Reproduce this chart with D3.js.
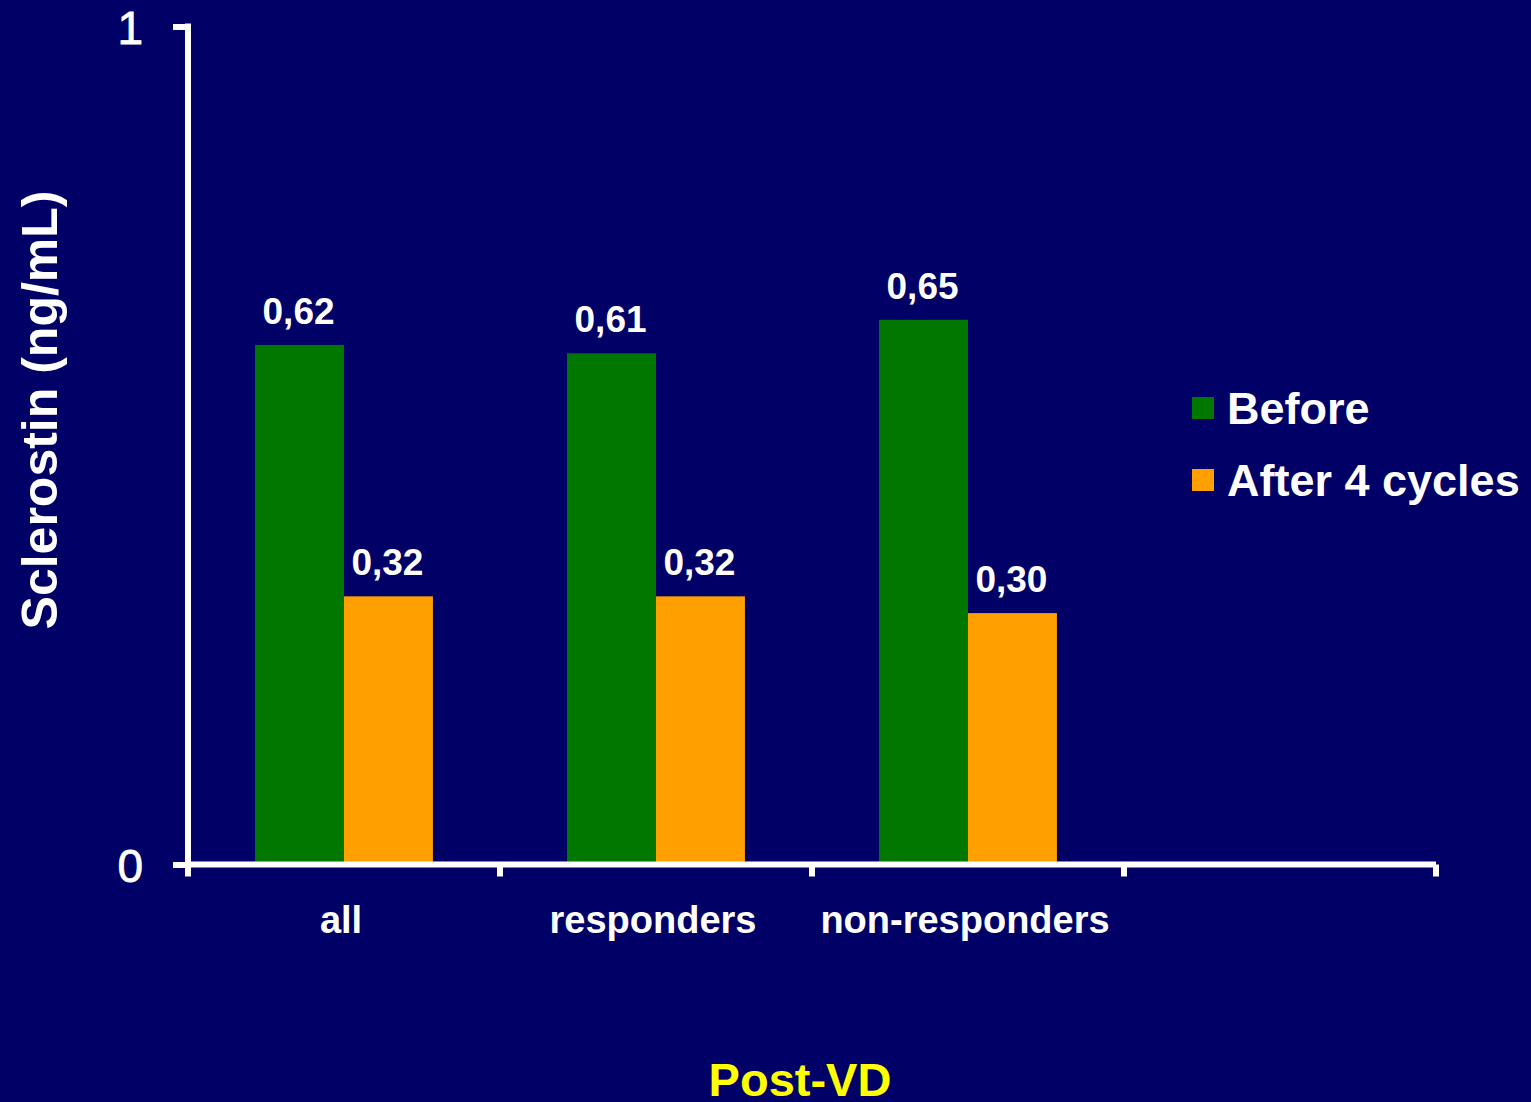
<!DOCTYPE html>
<html>
<head>
<meta charset="utf-8">
<script src="https://cdn.jsdelivr.net/npm/d3@7"></script>
<style>
  html, body { margin: 0; padding: 0; background: #000066; }
  svg { display: block; font-family: "Liberation Sans", Arial, sans-serif; }
</style>
</head>
<body>
<svg id="chart" width="1531" height="1102"></svg>
<script>
// Sclerostin levels before and after treatment, per patient group
const categories = ["all", "responders", "non-responders", ""];
const seriesNames = ["Before", "After 4 cycles"];
const beforeValues = [0.62, 0.61, 0.65, null];
const afterValues = [0.32, 0.32, 0.30, null];
const valueLabelsBefore = ["0,62", "0,61", "0,65", ""];
const valueLabelsAfter = ["0,32", "0,32", "0,30", ""];
const yTickValues = [0, 1];
const yTickLabels = ["0", "1"];

const colors = { "Before": "#007800", "After 4 cycles": "#FFA000" };

const svg = d3.select("#chart");
svg.append("rect").attr("width", 1531).attr("height", 1102).attr("fill", "#000066");

const x = d3.scaleBand()
  .domain(categories)
  .range([188, 1436])
  .paddingInner(0.43)
  .paddingOuter(0.215);

const xs = d3.scaleBand()
  .domain(seriesNames)
  .range([0, x.bandwidth()])
  .padding(0);

const y = d3.scaleLinear().domain([0, 1]).range([864.5, 26.5]);

// rows: one per category/series pair
const rows = [];
categories.forEach((c, i) => {
  if (beforeValues[i] != null) rows.push({ cat: c, series: "Before", value: beforeValues[i], label: valueLabelsBefore[i] });
  if (afterValues[i] != null) rows.push({ cat: c, series: "After 4 cycles", value: afterValues[i], label: valueLabelsAfter[i] });
});

// bars
svg.append("g").selectAll("rect")
  .data(rows)
  .join("rect")
  .attr("x", d => x(d.cat) + xs(d.series))
  .attr("y", d => y(d.value))
  .attr("width", xs.bandwidth())
  .attr("height", d => y(0) - y(d.value))
  .attr("fill", d => colors[d.series]);

// value labels
svg.append("g").selectAll("text")
  .data(rows)
  .join("text")
  .attr("x", d => x(d.cat) + xs(d.series) + xs.bandwidth() / 2 - 1)
  .attr("y", d => y(d.value) - 21)
  .attr("text-anchor", "middle")
  .attr("fill", "#ffffff")
  .attr("font-weight", "bold")
  .attr("font-size", 37)
  .text(d => d.label);

// y axis
const yAxis = svg.append("g")
  .attr("transform", "translate(188,0)")
  .call(d3.axisLeft(y).tickValues(yTickValues).tickFormat((d, i) => yTickLabels[i]).tickSize(15).tickSizeOuter(0).tickPadding(30));
yAxis.select(".domain").remove();
yAxis.selectAll(".tick line").attr("stroke", "#ffffff").attr("stroke-width", 6);
yAxis.selectAll(".tick text")
  .attr("fill", "#ffffff")
  .attr("stroke", "#ffffff")
  .attr("stroke-width", 0.8)
  .attr("font-size", 46)
  .attr("font-family", "Liberation Sans, Arial, sans-serif")
  .attr("dy", "0.36em");
svg.append("line")
  .attr("x1", 188).attr("x2", 188)
  .attr("y1", y(1)).attr("y2", y(0))
  .attr("stroke", "#ffffff").attr("stroke-width", 6).attr("stroke-linecap", "square");

// x axis
const xAxis = svg.append("g")
  .attr("transform", `translate(0,${y(0)})`)
  .call(d3.axisBottom(x).tickSize(0).tickPadding(0));
xAxis.select(".domain").remove();
xAxis.selectAll(".tick text")
  .attr("fill", "#ffffff")
  .attr("font-size", 38)
  .attr("font-weight", "bold")
  .attr("font-family", "Liberation Sans, Arial, sans-serif")
  .attr("dy", 0)
  .attr("x", -3)
  .attr("y", 68);
svg.append("line")
  .attr("x1", x.range()[0]).attr("x2", x.range()[1])
  .attr("y1", y(0)).attr("y2", y(0))
  .attr("stroke", "#ffffff").attr("stroke-width", 6);
const step = x.step();
const boundaries = categories.map(c => x(c) - step * x.paddingInner() / 2).concat([x(categories[categories.length - 1]) + x.bandwidth() + step * x.paddingInner() / 2]);
svg.append("g").selectAll("line")
  .data(boundaries)
  .join("line")
  .attr("x1", d => d).attr("x2", d => d)
  .attr("y1", y(0)).attr("y2", y(0) + 12)
  .attr("stroke", "#ffffff").attr("stroke-width", 6);

// y axis title
svg.append("text")
  .attr("transform", "translate(57,410) rotate(-90)")
  .attr("text-anchor", "middle")
  .attr("fill", "#ffffff")
  .attr("font-weight", "bold")
  .attr("font-size", 50)
  .text("Sclerostin (ng/mL)");

// x axis title
svg.append("text")
  .attr("x", 800)
  .attr("y", 1096)
  .attr("text-anchor", "middle")
  .attr("fill", "#FFFF00")
  .attr("font-weight", "bold")
  .attr("font-size", 47)
  .text("Post-VD");

// legend
const legend = svg.append("g").attr("transform", "translate(1192,397)");
const li = legend.selectAll("g")
  .data(seriesNames)
  .join("g")
  .attr("transform", (d, i) => `translate(0,${i * 72})`);
li.append("rect")
  .attr("width", 22).attr("height", 22)
  .attr("fill", d => colors[d]);
li.append("text")
  .attr("x", 35).attr("y", 27)
  .attr("fill", "#ffffff")
  .attr("font-weight", "bold")
  .attr("font-size", 45)
  .text(d => d);
</script>
</body>
</html>
